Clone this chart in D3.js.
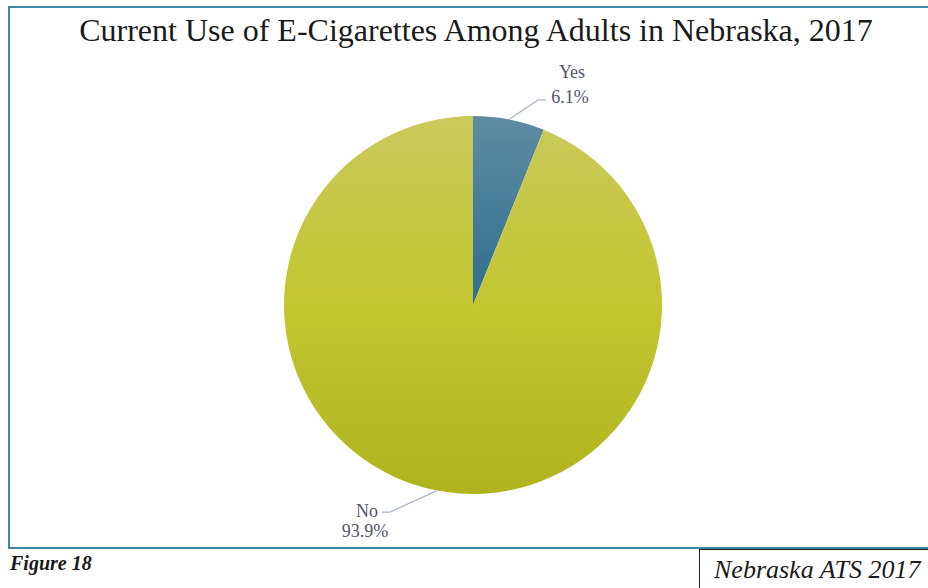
<!DOCTYPE html>
<html><head><meta charset="utf-8">
<script src="https://cdn.jsdelivr.net/npm/d3@7"></script>
<style>html,body{margin:0;padding:0;background:#fff;}svg{display:block;}</style>
</head><body>
<svg id="chart" width="928" height="588"></svg>
<script>
const categories = ["Yes", "No"];
const values = [6.1, 93.9];
const valueLabels = ["6.1%", "93.9%"];
const title = "Current Use of E-Cigarettes Among Adults in Nebraska, 2017";

const svg = d3.select("#chart");
const cx = 473, cy = 305, r = 189;
const serif = "Liberation Serif, serif";

// frame
svg.append("rect").attr("x", 9).attr("y", 7).attr("width", 940).attr("height", 541)
  .attr("fill", "none").attr("stroke", "#3f88a3").attr("stroke-width", 2);

svg.append("text").attr("x", 476).attr("y", 41).attr("text-anchor", "middle")
  .attr("font-family", serif).attr("font-size", 32)
  .attr("fill", "#1a1a1a").text(title);

const defs = svg.append("defs");
const grads = [
  {id: "gYes", stops: ["#5f8ca3", "#2d6e8e", "#1f5f80"]},
  {id: "gNo", stops: ["#cac95c", "#c2c62f", "#afb31e"]}
];
grads.forEach(gd => {
  const lg = defs.append("linearGradient").attr("id", gd.id)
    .attr("gradientUnits", "userSpaceOnUse")
    .attr("x1", 0).attr("x2", 0).attr("y1", -r).attr("y2", r);
  gd.stops.forEach((c, k) => lg.append("stop").attr("offset", k / 2).attr("stop-color", c));
});

const pie = d3.pie().sort(null).value(d => d)(values);
const arc = d3.arc().innerRadius(0).outerRadius(r);
const g = svg.append("g").attr("transform", `translate(${cx},${cy})`);
g.selectAll("path").data(pie).join("path")
  .attr("d", arc)
  .attr("fill", (d, i) => `url(#${grads[i].id})`);

// label layout (offsets of leader elbow from arc point, text offsets from leader end)
const layout = [
  {elbow: [29, -19.5], tail: 8, name: [26, -22], val: [24, 3]},
  {elbow: [-47, 21.5], tail: -8, name: [-15, 5], val: [-17, 25]}
];
pie.forEach((d, i) => {
  const mid = (d.startAngle + d.endAngle) / 2;
  const L = layout[i];
  const p0 = [Math.sin(mid) * r, -Math.cos(mid) * r];
  const p1 = [p0[0] + L.elbow[0], p0[1] + L.elbow[1]];
  const p2 = [p1[0] + L.tail, p1[1]];
  g.append("polyline").attr("points", [p0, p1, p2].map(p => p.join(",")).join(" "))
    .attr("fill", "none").attr("stroke", "#aab5cc").attr("stroke-width", 1.3);
  const t = g.append("text").attr("text-anchor", "middle")
    .attr("font-family", serif).attr("font-size", 18).attr("fill", "#4f5468");
  t.append("tspan").attr("x", p2[0] + L.name[0]).attr("y", p2[1] + L.name[1]).text(categories[i]);
  t.append("tspan").attr("x", p2[0] + L.val[0]).attr("y", p2[1] + L.val[1]).text(valueLabels[i]);
});

// footer
svg.append("text").attr("x", 10).attr("y", 570)
  .attr("font-family", serif).attr("font-size", 20)
  .attr("font-weight", "bold").attr("font-style", "italic").attr("fill", "#1a1a1a").text("Figure 18");
svg.append("line").attr("x1", 699.5).attr("x2", 699.5).attr("y1", 549).attr("y2", 588)
  .attr("stroke", "#222").attr("stroke-width", 1);
svg.append("line").attr("x1", 699).attr("x2", 928).attr("y1", 549.5).attr("y2", 549.5)
  .attr("stroke", "#222").attr("stroke-width", 1);
svg.append("text").attr("x", 714).attr("y", 578)
  .attr("font-family", serif).attr("font-size", 26)
  .attr("font-style", "italic").attr("fill", "#1a1a1a").text("Nebraska ATS 2017");
</script>
</body></html>
